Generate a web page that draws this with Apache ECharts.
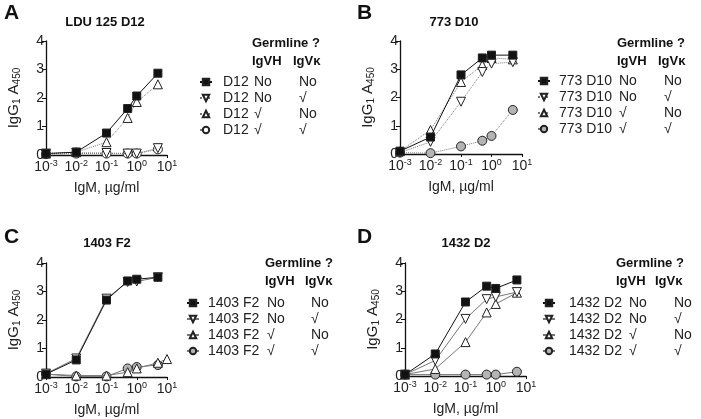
<!DOCTYPE html>
<html>
<head>
<meta charset="utf-8">
<script src="https://cdn.jsdelivr.net/npm/echarts@6/dist/echarts.min.js"></script>
<style>
    html, body {margin: 0; padding: 0; background: #fff;}
    #chart {width: 701px; height: 419px;}
</style>
</head>
<body>
<div id="chart"></div>
<script>
// IgM concentrations (µg/ml)
const doses = [0.001, 0.01, 0.1, 0.5, 1, 5];
const dosesCUp = [0.001, 0.01, 0.1, 0.5, 1, 5, 10];

// A - LDU 125 D12
const aSq = [0.05, 0.1, 0.77, 1.63, 2.07, 2.87];
const aDn = [0.05, 0.08, 0.07, 0.05, 0.05, 0.24];
const aUp = [0.05, 0.1, 0.45, 1.3, 1.86, 2.48];
const aCi = [0.03, 0.05, 0.05, 0.05, 0.05, 0.2];
// B - 773 D10
const bSq = [0.1, 0.6, 2.8, 3.4, 3.5, 3.5];
const bDn = [0.05, 0.43, 1.85, 2.9, 3.2, 3.25];
const bUp = [0.1, 0.85, 2.55, 3.15, 3.4, 3.35];
const bCi = [0.05, 0.03, 0.27, 0.47, 0.64, 1.56];
// C - 1403 F2
const cSq = [0.1, 0.6, 2.7, 3.37, 3.43, 3.5];
const cDn = [0.12, 0.65, 2.75, 3.33, 3.35, 3.5];
const cUp = [0.1, 0.05, 0.05, 0.17, 0.3, 0.5, 0.63];
const cCi = [0.1, 0.02, 0.02, 0.3, 0.35, 0.42];
// D - 1432 D2
const dSq = [0.05, 0.78, 2.62, 3.18, 3.1, 3.4];
const dDn = [0.05, 0.55, 2.02, 2.72, 2.8, 2.97];
const dUp = [0.05, 0.25, 1.2, 2.25, 2.55, 2.95];
const dCi = [0.05, 0.05, 0.05, 0.05, 0.05, 0.15];

const clones = ['D12', '773 D10', '1403 F2', '1432 D2'];
const titles = ['LDU 125 D12', '773 D10', '1403 F2', '1432 D2'];
const letters = ['A', 'B', 'C', 'D'];
const germ = [['No', 'No'], ['No', '√'], ['√', 'No'], ['√', '√']];
const yTicks = [0, 1, 2, 3, 4];

const FONT = '"Liberation Sans", Arial, sans-serif';

// panel layout
const panels = [
    {grid: {left: 46, top: 41, width: 121, height: 114}, leg: {left: 199, top: 75, pad: 6, w: 31, col: 45}, head: {x: 252, y: 45, k: 293}, title: {x: 105, y: 22}, letter: {x: 4, y: 13}, circ: '#fff', dash: 'dotted'},
    {grid: {left: 400, top: 41, width: 122, height: 113}, leg: {left: 537, top: 74, pad: 4, w: 60, col: 45}, head: {x: 617, y: 45, k: 658}, title: {x: 454, y: 22}, letter: {x: 357, y: 13}, circ: '#b4b4b4', dash: 'dotted'},
    {grid: {left: 46, top: 263, width: 121, height: 114}, leg: {left: 186, top: 296, pad: 4, w: 59, col: 44}, head: {x: 265, y: 265, k: 305}, title: {x: 107, y: 243}, letter: {x: 4, y: 237}, circ: '#b4b4b4', dash: 'solid'},
    {grid: {left: 405, top: 263, width: 121, height: 113}, leg: {left: 542, top: 296, pad: 9, w: 60, col: 45}, head: {x: 616, y: 265, k: 655}, title: {x: 466, y: 243}, letter: {x: 357, y: 237}, circ: '#b4b4b4', dash: 'solid'}
];

const sets = [
    [aSq, aDn, aUp, aCi],
    [bSq, bDn, bUp, bCi],
    [cSq, cDn, cUp, cCi],
    [dSq, dDn, dUp, dCi]
];

let grids = [], xAxes = [], yAxes = [], series = [], legends = [], graphics = [];
let nameMap = {};

panels.forEach((p, i) => {
    grids.push(p.grid);
    xAxes.push({
        type: 'log',
        logBase: 10,
        gridIndex: i,
        min: 0.001,
        max: 10,
        name: 'IgM, µg/ml',
        nameLocation: 'middle',
        nameGap: 26,
        nameTextStyle: {fontSize: 14, color: '#222', fontFamily: FONT},
        axisLine: {lineStyle: {color: '#111', width: 1.3}},
        axisTick: {show: true, length: 3, lineStyle: {color: '#111'}},
        splitLine: {show: false},
        axisLabel: {
            margin: 4,
            color: '#222',
            fontFamily: FONT,
            formatter: (v) => '{b|10}{s|' + Math.round(Math.log10(v)) + '}',
            rich: {
                b: {fontSize: 14, fontFamily: FONT, color: '#222'},
                s: {fontSize: 9, fontFamily: FONT, color: '#222', padding: [0, 0, 8, 0]}
            }
        }
    });
    yAxes.push({
        type: 'value',
        gridIndex: i,
        min: yTicks[0],
        max: yTicks[yTicks.length - 1],
        interval: 1,
        name: '{m|IgG}{s|1}{m| A}{s|450}',
        nameLocation: 'middle',
        nameGap: 24,
        nameTextStyle: {
            rich: {
                m: {fontSize: 15, fontFamily: FONT, color: '#222'},
                s: {fontSize: 10, fontFamily: FONT, color: '#222', padding: [7, 0, 0, 0]}
            }
        },
        axisLine: {show: true, lineStyle: {color: '#111', width: 1.3}},
        axisTick: {show: true, length: 4, lineStyle: {color: '#111'}},
        splitLine: {show: false},
        axisLabel: {margin: 2, fontSize: 14, color: '#222', fontFamily: FONT}
    });

    const vals = sets[i];
    const styles = [
        {symbol: 'rect', size: 8, rotate: 0, fill: '#111', line: '#111', type: 'solid'},
        {symbol: 'triangle', size: 9, rotate: 180, fill: '#fff', line: '#777', type: p.dash},
        {symbol: 'triangle', size: 9, rotate: 0, fill: '#fff', line: '#777', type: p.dash},
        {symbol: 'circle', size: 9, rotate: 0, fill: p.circ, line: '#777', type: p.dash}
    ];
    let legendNames = [];
    vals.forEach((v, k) => {
        const st = styles[k];
        const xs = (i === 2 && k === 2) ? dosesCUp : doses;
        const nm = letters[i] + k;
        nameMap[nm] = {clone: clones[i], g: germ[k]};
        legendNames.push(nm);
        series.push({
            name: nm,
            type: 'line',
            xAxisIndex: i,
            yAxisIndex: i,
            data: v.map((y, j) => [xs[j], y]),
            symbol: st.symbol,
            symbolSize: st.size,
            symbolRotate: st.rotate,
            showAllSymbol: true,
            z: 10 - k,
            lineStyle: {color: st.line, width: 1, type: st.type},
            itemStyle: {color: st.fill, borderColor: '#222', borderWidth: 1},
            emphasis: {disabled: true},
            animation: false
        });
    });

    const L = p.leg;
    legends.push({
        data: legendNames,
        orient: 'vertical',
        left: L.left,
        top: L.top,
        padding: 0,
        itemWidth: 12,
        itemHeight: 8,
        itemGap: 2,
        selectedMode: false,
        formatter: (name) => {
            const e = nameMap[name];
            return '{p| }{n|' + e.clone + '}{a|' + e.g[0] + '}{b|' + e.g[1] + '}';
        },
        textStyle: {
            fontSize: 14,
            lineHeight: 14,
            color: '#222',
            fontFamily: FONT,
            rich: {
                p: {width: L.pad, fontSize: 14},
                n: {width: L.w, fontSize: 14, fontFamily: FONT, color: '#222'},
                a: {width: L.col, fontSize: 14, fontFamily: FONT, color: '#222'},
                b: {fontSize: 14, fontFamily: FONT, color: '#222'}
            }
        }
    });

    const H = p.head;
    const bold = {fontSize: 13, fontWeight: 'bold', fontFamily: FONT, fill: '#111'};
    graphics.push(
        {type: 'text', left: H.x, top: H.y - 8, style: Object.assign({text: 'Germline ?'}, bold)},
        {type: 'text', left: H.x, top: H.y + 10, style: Object.assign({text: 'IgVH'}, bold)},
        {type: 'text', left: H.k, top: H.y + 10, style: Object.assign({text: 'IgVκ'}, bold)},
        {type: 'text', x: p.title.x, y: p.title.y, style: Object.assign({text: titles[i], textAlign: 'center', textVerticalAlign: 'middle'}, bold)},
        {type: 'text', x: p.letter.x, y: p.letter.y, style: {text: letters[i], fontSize: 21, fontWeight: 'bold', fontFamily: FONT, fill: '#111', textVerticalAlign: 'middle'}}
    );
});

const chart = echarts.init(document.getElementById('chart'));
chart.setOption({
    backgroundColor: '#fff',
    animation: false,
    grid: grids,
    xAxis: xAxes,
    yAxis: yAxes,
    legend: legends,
    series: series,
    graphic: graphics
});
</script>
</body>
</html>
